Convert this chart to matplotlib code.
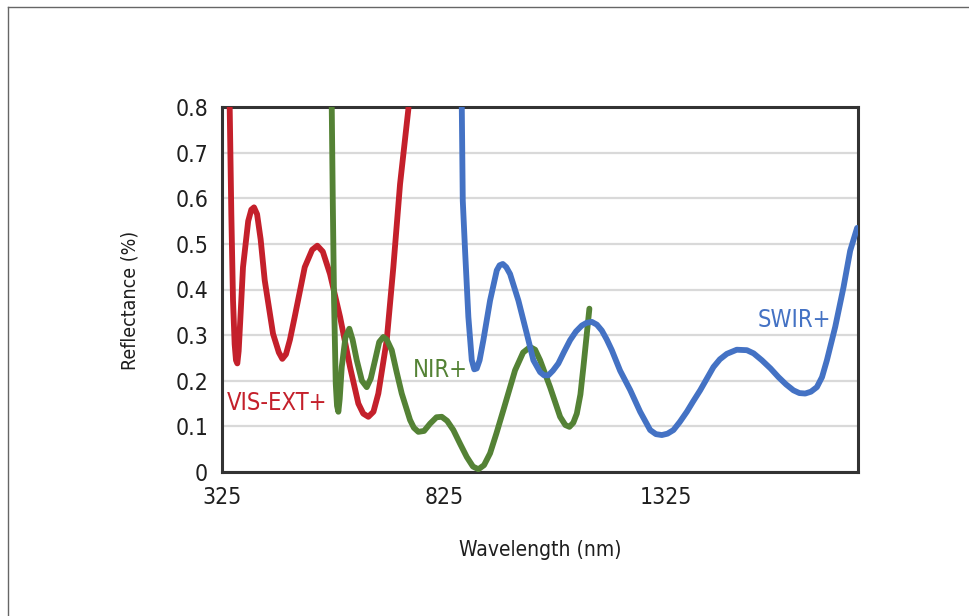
import matplotlib
matplotlib.use("Agg")
import matplotlib.pyplot as plt
from matplotlib.lines import Line2D

# reflectance curves (wavelength nm, reflectance %)
vis_wl = [340, 342.3, 346.0, 349.8, 353.5, 356.5, 359.5, 362.5, 366, 372.3, 384, 391, 397.1, 404,
          412, 421.2, 439.9, 453, 460.8, 469, 478, 488.7, 511.3, 528, 539.6, 552, 568.2, 590.8,
          613.3, 632.0, 643, 654.5, 666, 677.0, 695.9, 710.8, 725.9, 744.6, 748]
vis_r = [0.95, 0.80, 0.565, 0.376, 0.28, 0.245, 0.238, 0.265, 0.33, 0.449, 0.55, 0.575, 0.58,
         0.565, 0.51, 0.42, 0.303, 0.262, 0.248, 0.258, 0.29, 0.34, 0.449, 0.487, 0.496, 0.483,
         0.434, 0.34, 0.23, 0.15, 0.128, 0.121, 0.132, 0.172, 0.289, 0.449, 0.631, 0.795, 0.86]

nir_wl = [571.5, 572.1, 574.4, 577.3, 581.1, 584, 587.0, 590, 594.6, 603, 611.7, 619, 628.4, 640,
          650.9, 660, 669.6, 679, 688.3, 696, 707.2, 718, 729.7, 748.4, 757, 767.1, 780, 793.5,
          808, 819.8, 832, 845.9, 861, 876.1, 890, 902.3, 915, 928.6, 943, 958.6, 984.9, 1003,
          1018.7, 1030, 1041.2, 1063.7, 1086.3, 1098, 1107.2, 1116, 1123.9, 1132, 1138.7, 1146.4,
          1152.2]
nir_r = [0.86, 0.80, 0.595, 0.376, 0.194, 0.145, 0.132, 0.16, 0.23, 0.295, 0.314, 0.29, 0.245,
         0.2, 0.186, 0.205, 0.245, 0.285, 0.296, 0.29, 0.267, 0.22, 0.172, 0.114, 0.097, 0.088,
         0.09, 0.106, 0.12, 0.121, 0.112, 0.092, 0.062, 0.033, 0.012, 0.006, 0.015, 0.041, 0.085,
         0.136, 0.223, 0.262, 0.274, 0.268, 0.245, 0.186, 0.121, 0.103, 0.099, 0.108, 0.128,
         0.17, 0.23, 0.303, 0.358]

swir_wl = [864.3, 864.9, 867.1, 872.3, 879.7, 887.4, 893, 898.6, 905, 913.5, 928.6, 943.7, 950,
           957.2, 965, 973.6, 992.3, 1011.3, 1026.1, 1041.2, 1050, 1059.9, 1070, 1082.4, 1095,
           1108.8, 1122, 1135.1, 1146, 1157.7, 1169, 1180.2, 1191, 1202.7, 1221.4, 1243.9, 1266.5,
           1289.0, 1302, 1315.3, 1328, 1341.5, 1356, 1371.6, 1386, 1401.6, 1431.5, 1446, 1461.7,
           1484, 1506.8, 1522, 1540.5, 1560, 1577.9, 1595, 1611.7, 1625, 1638.1, 1651, 1664.4,
           1676, 1687.0, 1705.7, 1724.4, 1739.4, 1755]
swir_r = [0.86, 0.80, 0.595, 0.485, 0.34, 0.245, 0.225, 0.227, 0.245, 0.289, 0.376, 0.442, 0.453,
          0.456, 0.449, 0.434, 0.376, 0.303, 0.245, 0.219, 0.212, 0.212, 0.222, 0.238, 0.263,
          0.289, 0.308, 0.321, 0.327, 0.329, 0.323, 0.31, 0.291, 0.267, 0.222, 0.18, 0.132,
          0.092, 0.083, 0.081, 0.084, 0.092, 0.11, 0.132, 0.155, 0.179, 0.23, 0.247, 0.259,
          0.268, 0.267, 0.26, 0.245, 0.227, 0.208, 0.192, 0.179, 0.173, 0.172, 0.176, 0.186,
          0.208, 0.245, 0.318, 0.405, 0.485, 0.535]

xticks = [325, 825, 1325]
yticks = [0, 0.1, 0.2, 0.3, 0.4, 0.5, 0.6, 0.7, 0.8]
ytick_labels = ["0", "0.1", "0.2", "0.3", "0.4", "0.5", "0.6", "0.7", "0.8"]

red = "#c4202b"
green = "#548235"
blue = "#4472c4"

plt.rcParams["font.family"] = ["DejaVu Sans"]
plt.rcParams["font.stretch"] = "condensed"

fig = plt.figure(figsize=(9.69, 6.16), dpi=100)
ax = fig.add_axes([222 / 969, 1 - 472 / 616, 636 / 969, 365 / 616])

ax.plot(vis_wl, vis_r, color=red, lw=4.2, solid_capstyle="round", solid_joinstyle="round", zorder=3)
ax.plot(nir_wl, nir_r, color=green, lw=4.2, solid_capstyle="round", solid_joinstyle="round", zorder=3)
ax.plot(swir_wl, swir_r, color=blue, lw=4.2, solid_capstyle="round", solid_joinstyle="round", zorder=3)

ax.set_xlim(325, 1757)
ax.set_ylim(0, 0.8)
ax.set_xticks(xticks)
ax.set_xticklabels([str(t) for t in xticks])
ax.set_yticks(yticks)
ax.set_yticklabels(ytick_labels)
ax.tick_params(length=0, labelsize=16.5, labelcolor="#1e1e1e", pad=10)
ax.grid(axis="y", color="#d9d9d9", lw=1.6, zorder=0)
ax.set_axisbelow(True)
for s in ax.spines.values():
    s.set_color("#333333")
    s.set_linewidth(2.2)

ax.text(336, 0.151, "VIS-EXT+", color=red, fontsize=17, va="center", ha="left")
ax.text(755, 0.223, "NIR+", color=green, fontsize=17, va="center", ha="left")
ax.text(1532, 0.333, "SWIR+", color=blue, fontsize=17, va="center", ha="left")

fig.text(540 / 969, 1 - 550 / 616, "Wavelength (nm)", fontsize=15, color="#1e1e1e",
         ha="center", va="center")
fig.text(130 / 969, 1 - 300 / 616, "Reflectance (%)", fontsize=14, color="#1e1e1e",
         ha="center", va="center", rotation=90)

# outer frame of the figure (only top and left edges show)
fig.add_artist(Line2D([8 / 969, 1], [1 - 7 / 616, 1 - 7 / 616], color="#666666", lw=1))
fig.add_artist(Line2D([8 / 969, 8 / 969], [0, 1 - 7 / 616], color="#666666", lw=1))

fig.savefig("out.png", dpi=100)
